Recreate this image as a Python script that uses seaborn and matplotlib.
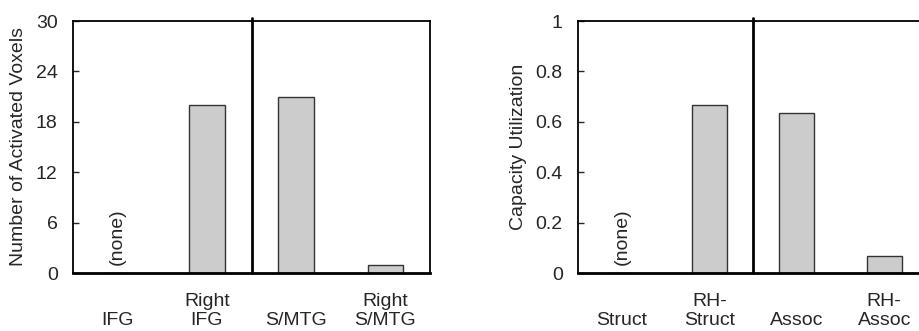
import matplotlib
matplotlib.use("Agg")
import matplotlib.pyplot as plt
import seaborn as sns
import pandas as pd

sns.set_style("ticks")
plt.rcParams['font.family'] = ['Liberation Sans', 'DejaVu Sans']

# left panel: activated voxels per region
voxel_regions = ["IFG", "Right\nIFG", "S/MTG", "Right\nS/MTG"]
voxel_counts = [0, 20, 21, 1]
voxel_ticks = [0, 6, 12, 18, 24, 30]

# right panel: capacity utilization per model
cap_models = ["Struct", "RH-\nStruct", "Assoc", "RH-\nAssoc"]
cap_values = [0, 0.665, 0.635, 0.068]
cap_ticks = [0, 0.2, 0.4, 0.6, 0.8, 1]
cap_ticklabels = ["0", "0.2", "0.4", "0.6", "0.8", "1"]

FS = 14
fig = plt.figure(figsize=(9.19, 3.31), dpi=100)
ax1 = fig.add_axes([73 / 919, 58 / 331, 357 / 919, 252 / 331])
ax2 = fig.add_axes([578 / 919, 58 / 331, 350 / 919, 252 / 331])


def draw(ax, cats, vals, ymax, ticks, ticklabels, ylabel, labx):
    df = pd.DataFrame({"cat": cats, "val": vals})
    sns.barplot(data=df, x="cat", y="val", ax=ax, color="#cccccc",
                saturation=1, width=0.4, edgecolor="#333333", linewidth=1)
    ax.set_xlim(-0.5, 3.5)
    ax.set_ylim(0, ymax)
    ax.set_yticks(ticks)
    ax.set_yticklabels(ticklabels, fontsize=FS)
    ax.set_xticks(range(len(cats)))
    ax.set_xticklabels(cats, fontsize=FS, va="bottom", linespacing=1.1)
    ax.tick_params(axis="x", length=0, pad=40)
    ax.tick_params(axis="y", direction="in", length=4, width=1, pad=11)
    ax.set_xlabel("")
    ax.set_ylabel(ylabel, fontsize=FS)
    ax.yaxis.set_label_coords(labx, 0.5)
    for s in ["top", "right", "left"]:
        ax.spines[s].set_visible(True)
        ax.spines[s].set_linewidth(1.3)
        ax.spines[s].set_color("black")
    ax.spines["bottom"].set_linewidth(2)
    ax.spines["bottom"].set_color("black")
    ax.axvline(1.5, ymin=0, ymax=1.01, color="black", lw=2, clip_on=False)
    ax.annotate("(none)", xy=(0, 0), xytext=(0, 6), textcoords="offset points",
                rotation=90, ha="center", va="bottom", fontsize=FS)


draw(ax1, voxel_regions, voxel_counts, 30, voxel_ticks,
     [str(t) for t in voxel_ticks], "Number of Activated Voxels", -0.129)
draw(ax2, cap_models, cap_values, 1, cap_ticks, cap_ticklabels,
     "Capacity Utilization", -0.146)

fig.savefig("out.png", dpi=100)
